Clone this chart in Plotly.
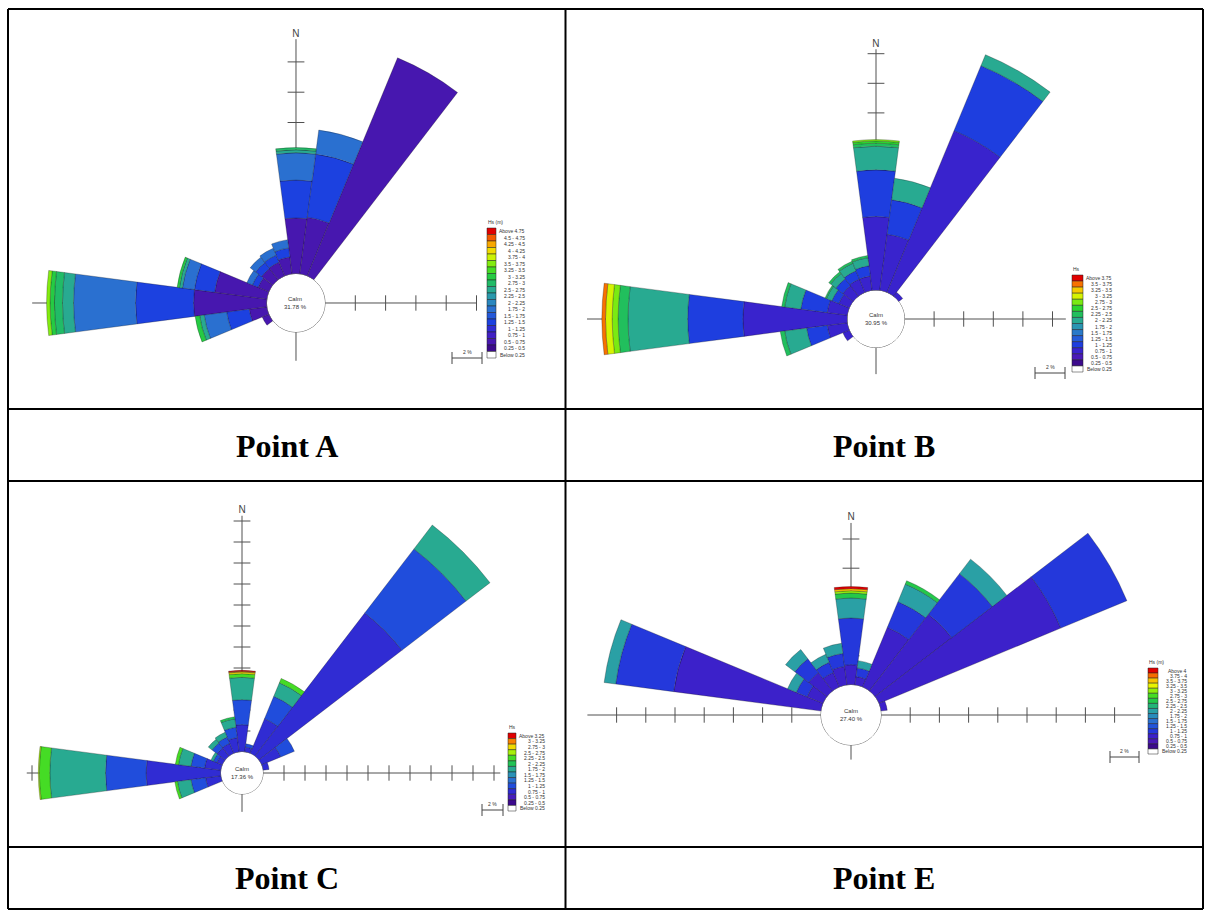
import plotly.graph_objects as go

W, H = 1210, 924
P = 200                      # hidden padding so the rose discs may extend past the page edge
FW, FH = W + 2 * P, H + 2 * P

# ---------------------------------------------------------------- data
# directions (deg from North, clockwise) and stacked segments: (Hs class index, percent)
A_dirs = [240, 255, 270, 285, 300, 315, 330, 345, 0, 15, 30]
A_segs = [
    [(1, 0.5)],
    [(1, 1.2), (4, 1.5), (6, 1.5), (9, 0.3), (11, 0.3)],
    [(1, 4.85), (4, 3.83), (6, 4.09), (9, 0.73), (10, 0.53), (11, 0.29), (13, 0.23)],
    [(1, 3.5), (4, 1.35), (6, 0.8), (9, 0.2), (11, 0.15)],
    [(1, 0.8), (4, 0.4), (6, 0.4)],
    [(1, 0.95), (4, 0.5), (6, 0.45)],
    [(1, 1.0), (4, 0.5), (6, 0.5)],
    [(1, 1.15), (4, 0.6), (6, 0.55)],
    [(1, 3.7), (4, 2.5), (6, 1.8), (9, 0.2), (10, 0.15)],
    [(1, 3.8), (4, 4.2), (6, 1.6)],
    [(1, 15.6)],
]
A_labels = ["Above 4.75", "4.5 - 4.75", "4.25 - 4.5", "4 - 4.25", "3.75 - 4", "3.5 - 3.75",
            "3.25 - 3.5", "3 - 3.25", "2.75 - 3", "2.5 - 2.75", "2.25 - 2.5", "2 - 2.25",
            "1.75 - 2", "1.5 - 1.75", "1.25 - 1.5", "1 - 1.25", "0.75 - 1", "0.5 - 0.75",
            "0.25 - 0.5", "Below 0.25"]
A_calm = "31.78 %"

B_dirs = [240, 255, 270, 285, 300, 315, 330, 345, 0, 15, 30, 45]
B_segs = [
    [(2, 0.5)],
    [(2, 1.4), (3, 1.4), (7, 1.5), (8, 0.3)],
    [(2, 7.07), (3, 3.73), (7, 4.03), (8, 0.67), (10, 0.4), (11, 0.45), (13, 0.25)],
    [(2, 1.4), (3, 1.8), (7, 1.1), (8, 0.2)],
    [(2, 0.8), (3, 0.5), (7, 0.4), (8, 0.1)],
    [(2, 0.9), (3, 0.6), (7, 0.45), (8, 0.15)],
    [(2, 1.0), (3, 0.6), (7, 0.55), (8, 0.15)],
    [(2, 1.0), (3, 0.7), (7, 0.55), (8, 0.15)],
    [(2, 5.0), (3, 3.15), (7, 1.6), (8, 0.2), (9, 0.15), (10, 0.1)],
    [(2, 3.85), (3, 2.35), (7, 1.47)],
    [(2, 11.85), (3, 4.75), (7, 0.8)],
    [(2, 0.35)],
]
B_labels = ["Above 3.75", "3.5 - 3.75", "3.25 - 3.5", "3 - 3.25", "2.75 - 3", "2.5 - 2.75",
            "2.25 - 2.5", "2 - 2.25", "1.75 - 2", "1.5 - 1.75", "1.25 - 1.5", "1 - 1.25",
            "0.75 - 1", "0.5 - 0.75", "0.25 - 0.5", "Below 0.25"]
B_calm = "30.95 %"

C_dirs = [255, 270, 285, 300, 315, 330, 345, 0, 15, 30, 45, 60, 75]
C_segs = [
    [(2, 1.5), (3, 1.4), (6, 1.3), (8, 0.25)],
    [(2, 7.13), (3, 3.87), (6, 5.3), (8, 1.0), (9, 0.1)],
    [(2, 1.6), (3, 1.3), (6, 1.2), (8, 0.3)],
    [(2, 0.6), (3, 0.35), (6, 0.25)],
    [(2, 1.0), (3, 0.6), (6, 0.45)],
    [(2, 1.05), (3, 0.65), (6, 0.5)],
    [(2, 1.4), (3, 1.0), (6, 0.8), (7, 0.2)],
    [(2, 2.6), (3, 2.38), (6, 2.13), (8, 0.35), (10, 0.16), (11, 0.08), (12, 0.08)],
    [(2, 0.5), (3, 0.3)],
    [(2, 3.6), (3, 2.3), (6, 1.4), (8, 0.45)],
    [(2, 17.2), (3, 7.7), (6, 2.87)],
    [(2, 2.0), (3, 1.4)],
    [(2, 0.6)],
]
C_labels = ["Above 3.25", "3 - 3.25", "2.75 - 3", "2.5 - 2.75", "2.25 - 2.5", "2 - 2.25",
            "1.75 - 2", "1.5 - 1.75", "1.25 - 1.5", "1 - 1.25", "0.75 - 1", "0.5 - 0.75",
            "0.25 - 0.5", "Below 0.25"]
C_calm = "17.36 %"

E_dirs = [285, 300, 315, 330, 345, 0, 15, 30, 45, 60, 75]
E_segs = [
    [(2, 10.2), (3, 4.0), (7, 0.8)],
    [(2, 1.2), (3, 0.8), (7, 0.65)],
    [(2, 1.6), (3, 1.2), (7, 0.8)],
    [(2, 1.1), (3, 0.75), (7, 0.6)],
    [(2, 1.3), (3, 0.9), (7, 0.7)],
    [(2, 1.39), (3, 3.2), (7, 1.37), (9, 0.34), (11, 0.16), (13, 0.14), (15, 0.15)],
    [(2, 0.6), (3, 0.6), (7, 0.5)],
    [(2, 4.45), (3, 1.9), (7, 1.3), (9, 0.25)],
    [(2, 6.65), (3, 3.5), (7, 1.25)],
    [(2, 13.5), (3, 4.9)],
    [(2, 0.45)],
]
E_labels = ["Above 4", "3.75 - 4", "3.5 - 3.75", "3.25 - 3.5", "3 - 3.25", "2.75 - 3",
            "2.5 - 2.75", "2.25 - 2.5", "2 - 2.25", "1.75 - 2", "1.5 - 1.75", "1.25 - 1.5",
            "1 - 1.25", "0.75 - 1", "0.5 - 0.75", "0.25 - 0.5", "Below 0.25"]
E_calm = "27.40 %"

POINT_NAMES = ["Point A", "Point B", "Point C", "Point E"]

# ---------------------------------------------------------------- styling / geometry
STOPS = [(0.00, "#3c0a8c"), (0.07, "#4a1ab8"), (0.14, "#3a22cc"), (0.22, "#1c40e0"),
         (0.32, "#2a6ad4"), (0.40, "#2a8cbc"), (0.48, "#2aa4a0"), (0.56, "#20bc64"),
         (0.64, "#28d430"), (0.72, "#80ec10"), (0.80, "#e8f400"), (0.87, "#f8c000"),
         (0.93, "#f87000"), (1.00, "#e00000")]


def _rgb(h):
    return [int(h[i:i + 2], 16) for i in (1, 3, 5)]


def palette(n):
    out = []
    for i in range(n):
        t = i / (n - 1)
        for (t0, c0), (t1, c1) in zip(STOPS[:-1], STOPS[1:]):
            if t0 <= t <= t1:
                f = 0 if t1 == t0 else (t - t0) / (t1 - t0)
                a, b = _rgb(c0), _rgb(c1)
                out.append("rgb(%d,%d,%d)" % tuple(round(a[k] + (b[k] - a[k]) * f) for k in range(3)))
                break
    return out


PANELS = [
    dict(dirs=A_dirs, segs=A_segs, labels=A_labels, calm=A_calm, title="Hs (m)",
         cx=296, cy=303, hole=29, ppp=15.15, rmax=16.4,
         ax=dict(N=15.5, E=10.0, S=1.9, W=15.5), tN=range(2, 15, 2), tE=range(2, 11, 2), tW=range(2, 15, 2),
         leg=(487, 496, 228, 358), sb=(452, 482, 358)),
    dict(dirs=B_dirs, segs=B_segs, labels=B_labels, calm=B_calm, title="Hs",
         cx=876, cy=319, hole=28.5, ppp=14.8, rmax=17.8,
         ax=dict(N=16.3, E=10.9, S=1.8, W=17.6), tN=range(2, 17, 2), tE=range(2, 11, 2), tW=range(2, 17, 2),
         leg=(1072, 1083, 275, 372), sb=(1035, 1065, 373)),
    dict(dirs=C_dirs, segs=C_segs, labels=C_labels, calm=C_calm, title="Hs",
         cx=242, cy=773, hole=21, ppp=10.5, rmax=28.0,
         ax=dict(N=22.5, E=22.6, S=1.7, W=18.5), tN=range(2, 23, 2), tE=range(2, 23, 2), tW=range(2, 19, 2),
         leg=(508, 516, 733, 811), sb=(482, 503, 810)),
    dict(dirs=E_dirs, segs=E_segs, labels=E_labels, calm=E_calm, title="Hs (m)",
         cx=851, cy=715, hole=30, ppp=14.6, rmax=18.6,
         ax=dict(N=11.1, E=17.8, S=1.0, W=16.0), tN=range(2, 11, 2), tE=range(2, 17, 2), tW=range(2, 15, 2),
         leg=(1148, 1158, 668, 754), sb=(1110, 1139, 757)),
]

LABEL_POS = [(287, 446), (884, 446), (287, 878), (884, 878)]
TABLE_X = [8, 565.5, 1203]
TABLE_Y = [9, 409, 481, 847, 909]


def px(x):
    return (x + P) / FW


def py(y):
    return 1 - (y + P) / FH


def note(x, y, text, size, xa="center", ya="middle", color="#333",
         family="Liberation Sans, Arial, sans-serif"):
    return dict(x=px(x), y=py(y), xref="paper", yref="paper", showarrow=False, text=text,
                xanchor=xa, yanchor=ya, font=dict(size=size, color=color, family=family))


fig = go.Figure()
shapes, annos = [], []
AXC = "#505050"
SMALL = "Liberation Sans, Arial, sans-serif"

for k, pn in enumerate(PANELS):
    ax_sub = "polar" if k == 0 else "polar%d" % (k + 1)
    bar_sub = "polar%d" % (k + 5)
    R = pn["hole"] + pn["rmax"] * pn["ppp"]
    hole = pn["hole"] / R
    dom = dict(x=[px(pn["cx"] - R), px(pn["cx"] + R)], y=[py(pn["cy"] + R), py(pn["cy"] - R)])
    pol = dict(domain=dom, hole=hole, bgcolor="rgba(0,0,0,0)", barmode="stack", bargap=0,
               radialaxis=dict(range=[0, pn["rmax"]], visible=False, showgrid=False),
               angularaxis=dict(rotation=90, direction="clockwise", visible=False, showgrid=False))
    fig.update_layout(**{ax_sub: pol, bar_sub: pol})

    # cross axes (below the bars)
    a = pn["ax"]
    fig.add_trace(go.Scatterpolar(
        r=[0, a["N"], None, 0, a["E"], None, 0, a["S"], None, 0, a["W"]],
        theta=[0, 0, None, 90, 90, None, 180, 180, None, 270, 270],
        mode="lines", line=dict(color=AXC, width=1), subplot=ax_sub,
        showlegend=False, hoverinfo="skip", cliponaxis=False))
    tn = list(pn["tN"])
    fig.add_trace(go.Scatterpolar(
        r=tn, theta=[0] * len(tn), mode="markers", subplot=ax_sub, showlegend=False, hoverinfo="skip",
        marker=dict(symbol="line-ew", size=12, line=dict(color=AXC, width=1)), cliponaxis=False))
    te, tw = list(pn["tE"]), list(pn["tW"])
    fig.add_trace(go.Scatterpolar(
        r=te + tw, theta=[90] * len(te) + [270] * len(tw), mode="markers", subplot=ax_sub,
        showlegend=False, hoverinfo="skip",
        marker=dict(symbol="line-ns", size=11, line=dict(color=AXC, width=1)), cliponaxis=False))
    fig.add_trace(go.Scatterpolar(
        r=[a["N"]], theta=[0], mode="text", text=["N"], textposition="top center",
        textfont=dict(size=10, color="#444", family=SMALL), subplot=ax_sub,
        showlegend=False, hoverinfo="skip", cliponaxis=False))

    # stacked bars, one trace per wave-height class
    n = len(pn["labels"]) - 1
    cols = palette(n)
    used = sorted({b for s in pn["segs"] for b, _ in s})
    for b in used:
        th, rr = [], []
        for d, s in zip(pn["dirs"], pn["segs"]):
            for bb, v in s:
                if bb == b:
                    th.append(d)
                    rr.append(v)
        fig.add_trace(go.Barpolar(
            r=rr, theta=th, width=[15] * len(th), subplot=bar_sub, showlegend=False, hoverinfo="skip",
            marker=dict(color=cols[b], line=dict(color="rgba(20,20,20,0.55)", width=0.5))))
    # calm circle
    fig.add_trace(go.Scatterpolar(
        r=[0] * 73, theta=list(range(0, 361, 5)), mode="lines", subplot=bar_sub,
        line=dict(color="#707070", width=1), showlegend=False, hoverinfo="skip"))
    annos.append(note(pn["cx"], pn["cy"], "Calm<br>" + pn["calm"], 6))

    # colour legend
    x0, x1, top, bot = pn["leg"]
    rows = len(pn["labels"])
    rh = (bot - top) / rows
    fills = cols[::-1] + ["white"]
    for i, (lab, fc) in enumerate(zip(pn["labels"], fills)):
        y0 = top + i * rh
        shapes.append(dict(type="rect", xref="paper", yref="paper", x0=px(x0), x1=px(x1),
                           y0=py(y0), y1=py(y0 + rh), fillcolor=fc, line=dict(color="#222", width=0.5)))
        annos.append(note(x1 + 31, y0 + rh / 2, lab, 5, xa="right"))
    annos.append(note(x0 - 1, top - 1, pn["title"], 5, xa="left", ya="bottom"))

    # 2 % scale bar
    s0, s1, sy = pn["sb"]
    for xa, xb, ya, yb in [(s0, s1, sy, sy), (s0, s0, sy - 6, sy + 6), (s1, s1, sy - 6, sy + 6)]:
        shapes.append(dict(type="line", xref="paper", yref="paper", x0=px(xa), x1=px(xb),
                           y0=py(ya), y1=py(yb), line=dict(color="#444", width=1)))
    annos.append(note((s0 + s1) / 2, sy - 1, "2 %", 5, ya="bottom"))

# table frame
for xv in TABLE_X:
    shapes.append(dict(type="line", xref="paper", yref="paper", x0=px(xv), x1=px(xv),
                       y0=py(TABLE_Y[0]), y1=py(TABLE_Y[-1]), line=dict(color="black", width=2)))
for yv in TABLE_Y:
    shapes.append(dict(type="line", xref="paper", yref="paper", x0=px(TABLE_X[0]), x1=px(TABLE_X[-1]),
                       y0=py(yv), y1=py(yv), line=dict(color="black", width=2)))
for name, (lx, ly) in zip(POINT_NAMES, LABEL_POS):
    annos.append(note(lx, ly, "<b>%s</b>" % name, 32, color="black",
                      family="Liberation Serif, Times New Roman, serif"))

fig.update_layout(width=FW, height=FH, autosize=False, margin=dict(l=0, r=0, t=0, b=0),
                  paper_bgcolor="white", plot_bgcolor="white", template="none",
                  showlegend=False, shapes=shapes, annotations=annos)

post = ("var d=document.getElementById('{plot_id}');"
        "document.documentElement.style.overflow='hidden';"
        "document.body.style.margin='0';document.body.style.overflow='hidden';"
        "var p=d.parentElement;p.style.position='relative';p.style.width='%dpx';"
        "p.style.height='%dpx';p.style.overflow='hidden';"
        "d.style.position='absolute';d.style.left='-%dpx';d.style.top='-%dpx';") % (W, H, P, P)

fig.write_html("out.html", post_script=post, config={"displayModeBar": False})
